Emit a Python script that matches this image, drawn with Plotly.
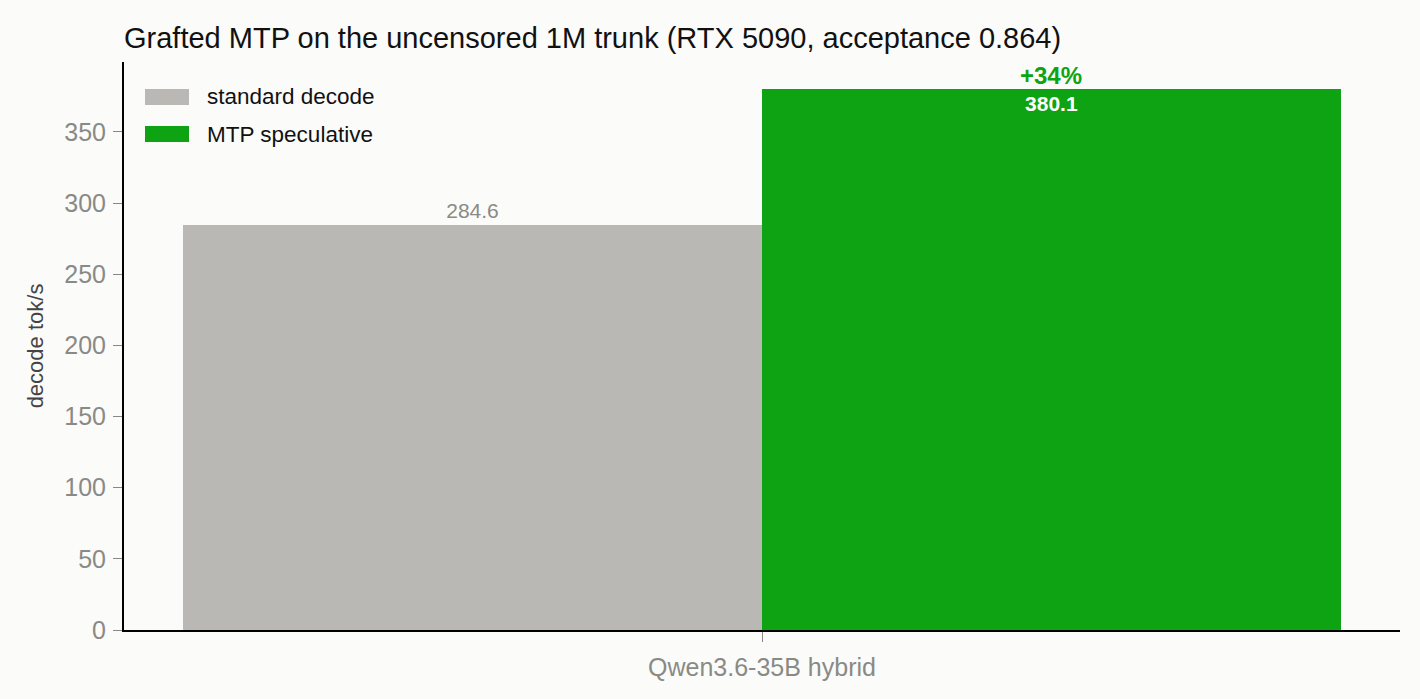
import plotly.graph_objects as go

# Data
categories = ["Qwen3.6-35B hybrid"]
standard_decode = [284.6]
mtp_speculative = [380.1]
speedup_labels = ["+34%"]
series_names = ["standard decode", "MTP speculative"]

FONT = "Liberation Sans, Arial, sans-serif"
GRAY = "#b9b8b4"
GREEN = "#0ea312"
BG = "#fbfbfa"

W, H = 1420, 699
ML, MR, MT, MB = 124, 20, 62, 69
BARGAP = 0.0925
plot_w = W - ML - MR
plot_h = H - MT - MB

fig = go.Figure()

fig.add_trace(
    go.Bar(
        x=categories, y=standard_decode, name=series_names[0],
        marker=dict(color=GRAY, line=dict(width=0)),
        text=[f"{v:.1f}" for v in standard_decode], textposition="outside",
        textfont=dict(family=FONT, size=21, color="#8a8a85"),
        cliponaxis=False,
    )
)

fig.add_trace(
    go.Bar(
        x=categories, y=mtp_speculative, name=series_names[1],
        marker=dict(color=GREEN, line=dict(width=0)),
        text=[f"<b>{v:.1f}</b>" for v in mtp_speculative], textposition="inside",
        insidetextanchor="end", textangle=0,
        textfont=dict(family=FONT, size=21, color="white"),
    )
)

# speedup label above the MTP bar (centre of second bar in the group)
shift = plot_w * (1 - BARGAP) / 4
for cat, v, lab in zip(categories, mtp_speculative, speedup_labels):
    fig.add_annotation(
        x=cat, y=v, text=f"<b>{lab}</b>", showarrow=False,
        xshift=shift, yanchor="bottom", yshift=-2,
        font=dict(family=FONT, size=24, color=GREEN),
    )

# hand-made legend with wide swatches
for i, (name, col) in enumerate(zip(series_names, [GRAY, GREEN])):
    ytop = 89 + i * 37
    fig.add_shape(
        type="rect", xref="paper", yref="paper",
        x0=(145 - ML) / plot_w, x1=(189 - ML) / plot_w,
        y0=(H - MB - ytop - 16) / plot_h, y1=(H - MB - ytop) / plot_h,
        fillcolor=col, line=dict(width=0),
    )
    fig.add_annotation(
        xref="paper", yref="paper", x=(205 - ML) / plot_w, y=(H - MB - ytop - 8) / plot_h,
        text=name, showarrow=False, xanchor="left", yanchor="middle",
        font=dict(family=FONT, size=22.5, color="#111"),
    )

fig.update_layout(
    width=W, height=H,
    margin=dict(l=ML, r=MR, t=MT, b=MB),
    paper_bgcolor=BG, plot_bgcolor=BG,
    barmode="group", bargap=BARGAP, bargroupgap=0,
    showlegend=False,
    font=dict(family=FONT, color="#444"),
    title=dict(
        text="Grafted MTP on the uncensored 1M trunk (RTX 5090, acceptance 0.864)",
        x=ML / W, xanchor="left", y=1 - 38 / H, yanchor="middle",
        font=dict(family=FONT, size=29, color="#111"),
    ),
    xaxis=dict(
        showline=True, linecolor="black", linewidth=2, showgrid=False,
        ticks="outside", ticklen=10, tickcolor="#888", ticklabelstandoff=4,
        tickfont=dict(family=FONT, size=25, color="#8a8a85"),
        range=[-0.5, 0.5],
    ),
    yaxis=dict(
        title=dict(text="decode tok/s", font=dict(family=FONT, size=22, color="#444"), standoff=15),
        showline=True, linecolor="black", linewidth=2, showgrid=False, zeroline=False,
        ticks="outside", ticklen=9, tickcolor="#888", ticklabelstandoff=2,
        tickfont=dict(family=FONT, size=25, color="#8a8a85"),
        range=[0, max(mtp_speculative) * 1.05], dtick=50,
    ),
    uniformtext=dict(mode="show", minsize=10),
)

fig.write_html(
    "out.html",
    config={"displayModeBar": False},
    post_script="document.body.style.margin='0';",
)
